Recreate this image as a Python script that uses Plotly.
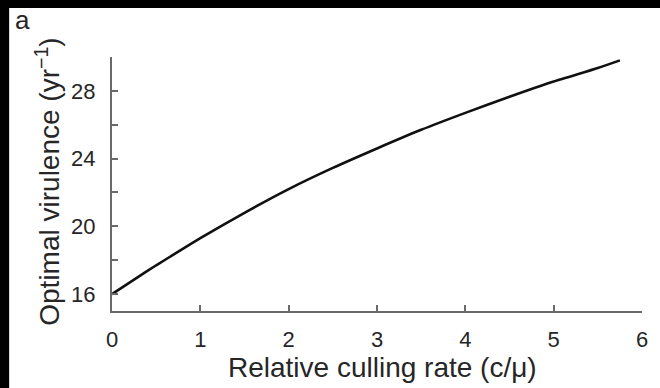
import plotly.graph_objects as go

# Relative culling rate (c/mu) and the resulting optimal virulence (per year)
culling_rate = [0.0, 0.25, 0.5, 0.75, 1.0, 1.5, 2.0, 2.5, 3.0, 3.5, 4.0, 4.5, 5.0, 5.5, 5.75]
optimal_virulence = [16.0, 16.85, 17.7, 18.5, 19.3, 20.8, 22.2, 23.45, 24.6, 25.7, 26.7, 27.65, 28.55, 29.35, 29.8]

x_ticks = [0, 1, 2, 3, 4, 5, 6]
y_ticks = [16, 20, 24, 28]
y_minor_ticks = [18, 22, 26, 30]

W, H = 660, 388
L, R, T, B = 112, 12, 57, 77
plot_w = W - L - R
plot_h = H - T - B


def px_x(p):
    return (p - L) / plot_w


def px_y(p):
    return (H - B - p) / plot_h


axis_grey = "#6a6a6a"
text_col = "#262626"
font_family = "Liberation Sans"

fig = go.Figure()
fig.add_trace(go.Scatter(
    x=culling_rate, y=optimal_virulence, mode="lines",
    line=dict(color="#111111", width=2.6, shape="spline", smoothing=0.6),
    hoverinfo="skip", showlegend=False,
))

fig.update_layout(
    width=W, height=H,
    margin=dict(l=L, r=R, t=T, b=B),
    paper_bgcolor="black", plot_bgcolor="white",
    font=dict(family=font_family, color=text_col, size=22),
    xaxis=dict(
        range=[0, 6], tickvals=x_ticks, ticktext=[str(v) for v in x_ticks],
        showline=True, linecolor=axis_grey, linewidth=2,
        ticks="inside", ticklen=6, tickwidth=1.5, tickcolor=axis_grey,
        showgrid=False, zeroline=False, ticklabelstandoff=8,
        tickfont=dict(family=font_family, size=22, color=text_col),
    ),
    yaxis=dict(
        range=[15, 30], tickvals=y_ticks, ticktext=[str(v) for v in y_ticks],
        showline=True, linecolor=axis_grey, linewidth=2,
        ticks="inside", ticklen=6, tickwidth=1.5, tickcolor=axis_grey,
        minor=dict(tickmode="array", tickvals=y_minor_ticks, ticks="inside",
                   ticklen=6, tickwidth=1.5, tickcolor=axis_grey, showgrid=False),
        showgrid=False, zeroline=False, ticklabelstandoff=10,
        tickfont=dict(family=font_family, size=22, color=text_col),
    ),
    shapes=[dict(type="rect", xref="paper", yref="paper", layer="below",
                 x0=px_x(8), x1=px_x(W + 20), y0=px_y(H + 20), y1=px_y(8),
                 fillcolor="white", line=dict(width=0))],
    annotations=[
        dict(text="Relative culling rate (c/\u03bc)", xref="paper", yref="paper",
             x=px_x(386), y=px_y(367), xanchor="center", yanchor="middle",
             showarrow=False, font=dict(size=28, family=font_family, color=text_col)),
        dict(text="Optimal virulence (yr<sup>\u22121</sup>)", xref="paper", yref="paper",
             x=px_x(47), y=px_y(182), xanchor="center", yanchor="middle", textangle=-90,
             showarrow=False, font=dict(size=28, family=font_family, color=text_col)),
        dict(text="a", xref="paper", yref="paper",
             x=px_x(12), y=px_y(20), xanchor="left", yanchor="middle",
             showarrow=False, font=dict(size=26, family=font_family, color=text_col)),
    ],
)

fig.write_html("out.html")
